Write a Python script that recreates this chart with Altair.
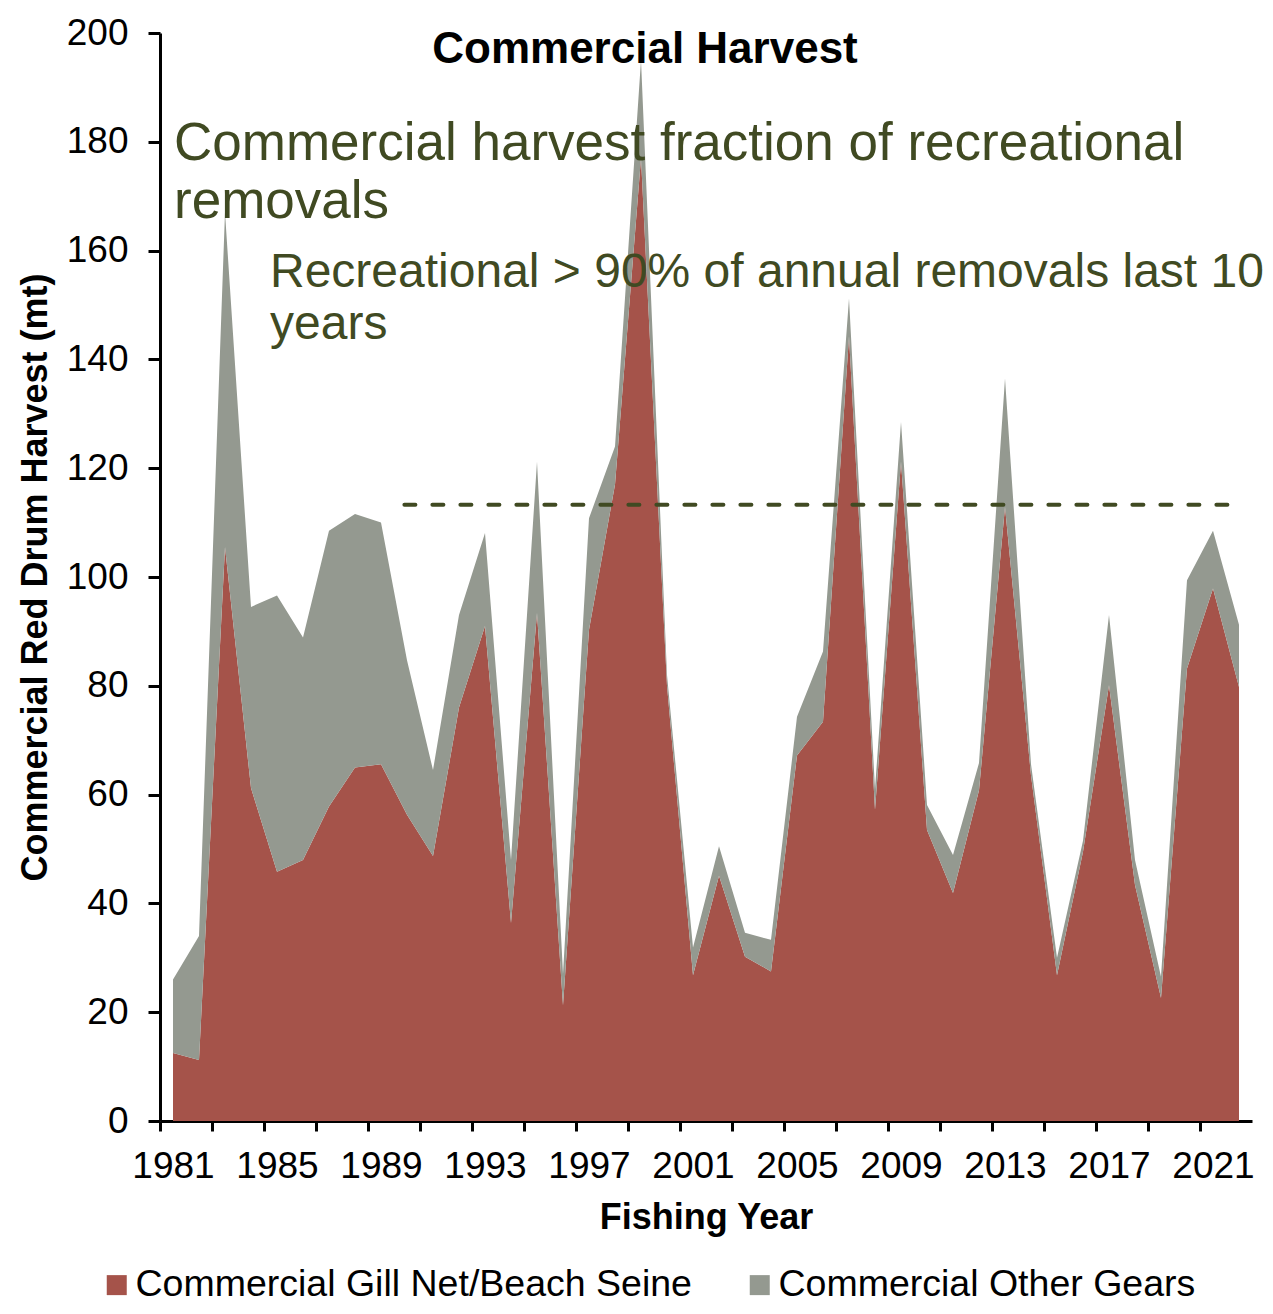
import altair as alt
import pandas as pd

# ---- data ----
years = list(range(1981, 2023))
gill_net = [12.5, 11.2, 105.5, 61.2, 45.8, 48.0, 57.8, 65.0, 65.6, 56.3,
            48.7, 76.0, 91.0, 36.4, 93.4, 21.3, 90.3, 117.0, 177.0, 80.0,
            26.8, 45.1, 30.2, 27.5, 67.2, 73.4, 144.2, 57.2, 121.2, 53.5,
            41.9, 60.8, 112.9, 63.5, 26.8, 49.5, 80.1, 43.4, 22.6, 83.2,
            97.9, 79.8]
other_gears = [13.5, 22.8, 61.5, 33.3, 50.8, 40.9, 50.7, 46.6, 44.4, 28.4,
               15.8, 17.0, 17.1, 11.6, 27.8, 5.7, 20.5, 7.0, 18.0, 2.0,
               5.1, 5.4, 4.4, 5.8, 7.1, 12.9, 7.0, 3.8, 7.3, 4.6,
               7.0, 5.0, 23.6, 2.1, 3.2, 2.0, 12.9, 4.6, 3.9, 16.2,
               10.6, 11.4]
series_names = ["Commercial Gill Net/Beach Seine", "Commercial Other Gears"]
series_colors = ["#A5534A", "#949990"]
y_ticks = list(range(0, 201, 20))

ref_value = 113.3
ref_start = 1989.9
ref_end = 2021.8

chart_title = "Commercial Harvest"
annotation_1 = "Commercial harvest fraction of recreational\nremovals"
annotation_2 = "Recreational > 90% of annual removals last 10\nyears"

FONT = "Liberation Sans"
OLIVE = "#404A22"

rows = []
for i, yr in enumerate(years):
    rows.append({"year": yr, "series": series_names[0], "ord": 0, "value": gill_net[i]})
    rows.append({"year": yr, "series": series_names[1], "ord": 1, "value": other_gears[i]})
df = pd.DataFrame(rows)

x_scale = alt.Scale(domain=[1980.5, 2022.5], nice=False, zero=False)
y_scale = alt.Scale(domain=[0, 200], nice=False)

area = alt.Chart(df).mark_area(interpolate="linear", opacity=1).encode(
    x=alt.X("year:Q", scale=x_scale,
            axis=alt.Axis(values=years + [2023], tickOffset=-13, labelOffset=13,
                          labelExpr="(datum.value % 4 == 1 && datum.value <= 2021) ? datum.label : ''",
                          format="d", labelFlush=False, labelOverlap=False,
                          title="Fishing Year", tickSize=10, labelPadding=17,
                          titlePadding=16)),
    y=alt.Y("value:Q", stack="zero", scale=y_scale,
            axis=alt.Axis(values=y_ticks, title="Commercial Red Drum Harvest (mt)",
                          tickSize=12, labelPadding=20, titlePadding=12)),
    color=alt.Color("series:N",
                    scale=alt.Scale(domain=series_names, range=series_colors),
                    legend=alt.Legend(orient="none", legendX=-62, legendY=1233,
                                      direction="horizontal", title=None,
                                      symbolType="square", symbolSize=400,
                                      symbolStrokeWidth=0, labelFontSize=37.5,
                                      labelFont=FONT, labelColor="black",
                                      labelLimit=1000, columnPadding=49,
                                      labelOffset=0, padding=0)),
    order=alt.Order("ord:Q", sort="ascending"),
)

rule = alt.Chart(pd.DataFrame({"x": [ref_start], "x2": [ref_end], "y": [ref_value]})).mark_rule(
    color=OLIVE, strokeWidth=4, strokeDash=[11, 17], strokeCap="round"
).encode(
    x=alt.X("x:Q", scale=x_scale),
    x2="x2:Q",
    y=alt.Y("y:Q", scale=y_scale),
)

title_txt = alt.Chart(pd.DataFrame({"t": [chart_title]})).mark_text(
    font=FONT, fontSize=44, fontWeight="bold", color="black",
    align="center", baseline="alphabetic"
).encode(text="t:N", x=alt.value(485), y=alt.value(30))

anno1 = alt.Chart(pd.DataFrame({"t": [annotation_1]})).mark_text(
    font=FONT, fontSize=53, color=OLIVE, align="left", baseline="alphabetic",
    lineBreak="\n", lineHeight=58
).encode(text="t:N", x=alt.value(14), y=alt.value(127))

anno2 = alt.Chart(pd.DataFrame({"t": [annotation_2]})).mark_text(
    font=FONT, fontSize=48, color=OLIVE, align="left", baseline="alphabetic",
    lineBreak="\n", lineHeight=52
).encode(text="t:N", x=alt.value(110), y=alt.value(254))

chart = alt.layer(area, rule, anno1, anno2, title_txt).properties(
    width=1092, height=1088,
    padding={"left": 152, "top": 25, "right": 12, "bottom": 182},
    autosize=alt.AutoSizeParams(type="none"),
).configure_view(stroke=None).configure_axis(
    domainColor="black", domainWidth=3, tickColor="black", tickWidth=3,
    labelFont=FONT, labelFontSize=37, labelColor="black",
    titleFont=FONT, titleFontSize=36, titleFontWeight="bold", titleColor="black",
    grid=False,
)

chart.save("out.html", embed_options={"renderer": "svg", "actions": False})
